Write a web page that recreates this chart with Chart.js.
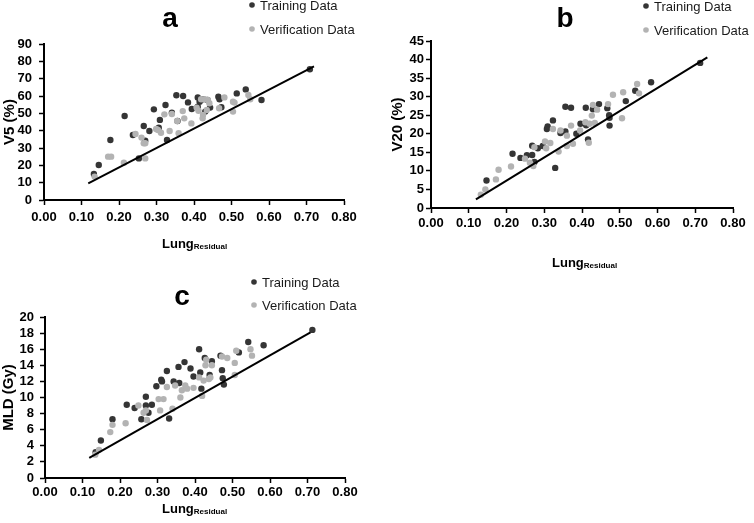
<!DOCTYPE html>
<html>
<head>
<meta charset="utf-8">
<script src="https://cdn.jsdelivr.net/npm/chart.js@4.4.1/dist/chart.umd.min.js"></script>
<style>
  body { margin: 0; background: #fff; width: 754px; height: 523px; overflow: hidden; position: relative; }
  canvas { position: absolute; }
  #chartA { left: 0; top: 0; }
  #chartB { left: 377px; top: 0; }
  #chartC { left: 0; top: 260px; }
</style>
</head>
<body>
<canvas id="chartA" width="377" height="260"></canvas>
<canvas id="chartB" width="377" height="272"></canvas>
<canvas id="chartC" width="377" height="263"></canvas>
<script>
// Serier och axlar
const seriesNames = ['Training Data', 'Verification Data'];
const xTitle = ['Lung', 'Residual'];
const xTickValues = [0, 0.1, 0.2, 0.3, 0.4, 0.5, 0.6, 0.7, 0.8];
const xTickLabels = ['0.00', '0.10', '0.20', '0.30', '0.40', '0.50', '0.60', '0.70', '0.80'];

// Panel a - V5 (%)
const aTicks = [0, 10, 20, 30, 40, 50, 60, 70, 80, 90];
const aTrainX = [0.133,0.146,0.177,0.215,0.237,0.253,0.266,0.270,0.281,0.293,0.306,0.309,0.324,0.328,0.341,0.353,0.356,0.371,0.384,0.394,0.410,0.410,0.415,0.424,0.430,0.436,0.443,0.465,0.468,0.473,0.514,0.538,0.580,0.709];
const aTrainY = [15.0,20.2,34.6,48.5,37.5,24.0,42.7,34.2,39.8,52.3,41.7,46.2,54.8,34.6,50.4,60.4,45.6,60.0,56.3,52.5,59.2,53.8,56.7,58.1,51.0,57.7,53.3,59.6,58.1,53.5,61.5,63.8,57.7,75.4];
const aValX = [0.135,0.171,0.179,0.213,0.244,0.260,0.266,0.270,0.270,0.299,0.304,0.312,0.321,0.335,0.341,0.355,0.359,0.370,0.374,0.393,0.407,0.412,0.419,0.423,0.424,0.428,0.434,0.437,0.441,0.467,0.481,0.504,0.508,0.504,0.545,0.550];
const aValY = [13.5,25.0,25.0,21.5,38.1,36.0,32.7,32.7,24.0,41.0,40.4,38.8,49.4,39.8,49.6,45.6,38.5,51.3,47.1,44.2,53.3,51.5,58.1,47.1,49.0,58.1,51.9,57.7,55.8,52.9,59.2,56.7,56.2,51.0,60.6,58.1];
const aFitX = [0.118, 0.72];
const aFitY = [9.6, 77.1];

// Panel b - V20 (%)
const bTicks = [0, 5, 10, 15, 20, 25, 30, 35, 40, 45];
const bTrainX = [0.147,0.216,0.237,0.254,0.268,0.268,0.274,0.283,0.296,0.307,0.309,0.323,0.329,0.343,0.356,0.356,0.371,0.385,0.396,0.410,0.411,0.416,0.429,0.445,0.467,0.472,0.473,0.473,0.516,0.541,0.583,0.713];
const bTrainY = [7.4,14.6,13.5,14.2,16.8,14.3,12.4,16.1,16.7,21.3,22.0,23.6,10.8,20.2,20.6,27.3,27.0,20.0,22.7,27.0,22.3,18.5,26.6,28.0,26.9,25.0,24.3,22.2,28.8,31.6,33.9,39.1];
const bValX = [0.132,0.144,0.172,0.179,0.212,0.249,0.262,0.271,0.274,0.302,0.305,0.316,0.323,0.338,0.343,0.360,0.360,0.371,0.376,0.395,0.409,0.418,0.420,0.426,0.429,0.434,0.440,0.469,0.482,0.506,0.509,0.546,0.551];
const bValY = [3.6,5.0,7.7,10.3,11.2,13.3,12.2,11.3,16.4,17.9,16.1,17.5,21.3,15.2,20.9,19.5,16.7,22.2,17.3,20.9,23.1,17.6,22.7,24.9,27.8,22.9,26.5,28.0,30.5,24.2,31.2,33.4,30.9];
const bFitX = [0.119, 0.732];
const bFitY = [2.3, 40.6];

// Panel c - MLD (Gy)
const cTicks = [0, 2, 4, 6, 8, 10, 12, 14, 16, 18, 20];
const cTrainX = [0.135,0.149,0.180,0.218,0.239,0.257,0.269,0.269,0.276,0.285,0.297,0.310,0.312,0.325,0.331,0.343,0.356,0.358,0.372,0.388,0.396,0.411,0.414,0.417,0.426,0.439,0.445,0.468,0.472,0.474,0.477,0.517,0.542,0.583,0.713];
const cTrainY = [3.2,4.65,7.3,9.1,8.7,7.3,10.1,9.0,8.1,9.1,11.4,12.2,12.0,13.3,7.4,12.0,13.8,11.8,14.4,13.6,12.6,16.0,13.1,11.1,14.9,12.8,14.5,15.2,13.4,12.4,11.6,15.6,16.9,16.5,18.4];
const cValX = [0.134,0.144,0.174,0.180,0.215,0.249,0.263,0.269,0.272,0.303,0.307,0.316,0.325,0.340,0.347,0.361,0.365,0.374,0.379,0.396,0.411,0.419,0.423,0.428,0.430,0.437,0.441,0.445,0.472,0.486,0.506,0.510,0.506,0.548,0.552];
const cValY = [2.9,3.5,5.7,6.6,6.8,9.0,8.1,8.4,7.2,9.8,8.4,9.8,11.3,8.6,11.5,10.0,10.9,11.5,11.1,11.2,12.5,10.2,12.1,14.0,14.7,12.3,12.5,14.0,15.1,14.9,14.3,15.8,12.8,16.0,15.2];
const cFitX = [0.118, 0.708];
const cFitY = [2.5, 18.1];

const FONT = '"Liberation Sans", Arial, sans-serif';
const dark = '#353535';
const light = '#b3b3b3';
const seriesColors = [dark, light];

Chart.defaults.font.family = FONT;
Chart.defaults.color = '#000';

function pairs(xs, ys) {
    return xs.map((x, i) => ({ x: x, y: ys[i] }));
}

// Bokstav, legend och x-titel med nedsänkt text
const panelText = {
    id: 'panelText',
    afterDraw(chart, args, o) {
        const ctx = chart.ctx;
        ctx.save();
        ctx.fillStyle = '#000';
        ctx.textBaseline = 'alphabetic';
        ctx.textAlign = 'center';
        ctx.font = 'bold 28px ' + FONT;
        ctx.fillText(o.letter, o.letterX, o.letterY);

        ctx.textAlign = 'left';
        ctx.font = '13px ' + FONT;
        seriesNames.forEach((name, i) => {
            const y = o.legendY[i];
            ctx.fillStyle = seriesColors[i];
            ctx.beginPath();
            ctx.arc(o.legendX, y - 5, 2.8, 0, Math.PI * 2);
            ctx.fill();
            ctx.fillStyle = '#1a1a1a';
            ctx.fillText(name, o.legendX + 8, y);
        });

        ctx.fillStyle = '#000';
        ctx.font = 'bold 13px ' + FONT;
        const w1 = ctx.measureText(xTitle[0]).width;
        ctx.fillText(xTitle[0], o.xTitleX, o.xTitleY);
        ctx.font = 'bold 8px ' + FONT;
        ctx.fillText(xTitle[1], o.xTitleX + w1, o.xTitleY + 1);
        ctx.restore();
    }
};

function makePanel(id, p) {
    new Chart(document.getElementById(id), {
        type: 'scatter',
        data: {
            datasets: [
                { label: 'fit', data: pairs(p.fitX, p.fitY), showLine: true, borderColor: '#000', borderWidth: 2, pointRadius: 0, pointHoverRadius: 0 },
                { label: seriesNames[1], data: pairs(p.valX, p.valY), backgroundColor: light, borderColor: light, borderWidth: 0, pointRadius: 3.2 },
                { label: seriesNames[0], data: pairs(p.trainX, p.trainY), backgroundColor: dark, borderColor: dark, borderWidth: 0, pointRadius: 3.2 }
            ]
        },
        options: {
            responsive: false,
            animation: false,
            devicePixelRatio: 1,
            layout: { padding: p.pad },
            plugins: {
                legend: { display: false },
                tooltip: { enabled: false },
                panelText: p.text
            },
            scales: {
                x: {
                    type: 'linear',
                    min: xTickValues[0],
                    max: xTickValues[xTickValues.length - 1],
                    afterBuildTicks: axis => { axis.ticks = xTickValues.map(v => ({ value: v })); },
                    afterFit: s => { s.height = p.xHeight; },
                    ticks: { callback: (v, i) => xTickLabels[i], font: { size: 13, weight: 'bold' }, color: '#000', padding: p.xPad, maxRotation: 0, autoSkip: false },
                    grid: { drawOnChartArea: false, drawTicks: true, tickLength: 5, tickColor: '#000', tickWidth: 1.5 },
                    border: { color: '#000', width: 2 }
                },
                y: {
                    type: 'linear',
                    min: p.yTicks[0],
                    max: p.yTicks[p.yTicks.length - 1],
                    afterBuildTicks: axis => { axis.ticks = p.yTicks.map(v => ({ value: v })); },
                    afterFit: s => { s.width = p.yWidth; },
                    ticks: { font: { size: 13, weight: 'bold' }, color: '#000', padding: p.yPad, autoSkip: false },
                    grid: { drawOnChartArea: false, drawTicks: true, tickLength: 5, tickColor: '#000', tickWidth: 1.5 },
                    border: { color: '#000', width: 2 },
                    title: { display: true, text: p.yTitle, font: { size: 15, weight: 'bold' }, color: '#000', padding: { top: p.yTitlePad, bottom: 0 } }
                }
            }
        },
        plugins: [panelText]
    });
}

makePanel('chartA', {
    trainX: aTrainX, trainY: aTrainY, valX: aValX, valY: aValY, fitX: aFitX, fitY: aFitY,
    yTicks: aTicks, yTitle: 'V5 (%)',
    pad: { left: 0, top: 44, right: 33, bottom: 0 }, xHeight: 60, yWidth: 44, xPad: 5, yPad: 7, yTitlePad: 1,
    text: { letter: 'a', letterX: 170, letterY: 27, legendX: 252, legendY: [10, 34], xTitleX: 162, xTitleY: 248 }
});

makePanel('chartB', {
    trainX: bTrainX, trainY: bTrainY, valX: bValX, valY: bValY, fitX: bFitX, fitY: bFitY,
    yTicks: bTicks, yTitle: 'V20 (%)',
    pad: { left: 0, top: 41, right: 21, bottom: 0 }, xHeight: 64, yWidth: 54, xPad: 3, yPad: 2, yTitlePad: 12,
    text: { letter: 'b', letterX: 188, letterY: 27, legendX: 269, legendY: [11, 35], xTitleX: 175, xTitleY: 267 }
});

makePanel('chartC', {
    trainX: cTrainX, trainY: cTrainY, valX: cValX, valY: cValY, fitX: cFitX, fitY: cFitY,
    yTicks: cTicks, yTitle: 'MLD (Gy)',
    pad: { left: 0, top: 57, right: 32, bottom: 0 }, xHeight: 45, yWidth: 45, xPad: 2, yPad: 6, yTitlePad: 0,
    text: { letter: 'c', letterX: 182, letterY: 45, legendX: 254, legendY: [27, 50], xTitleX: 162, xTitleY: 253 }
});
</script>
</body>
</html>
